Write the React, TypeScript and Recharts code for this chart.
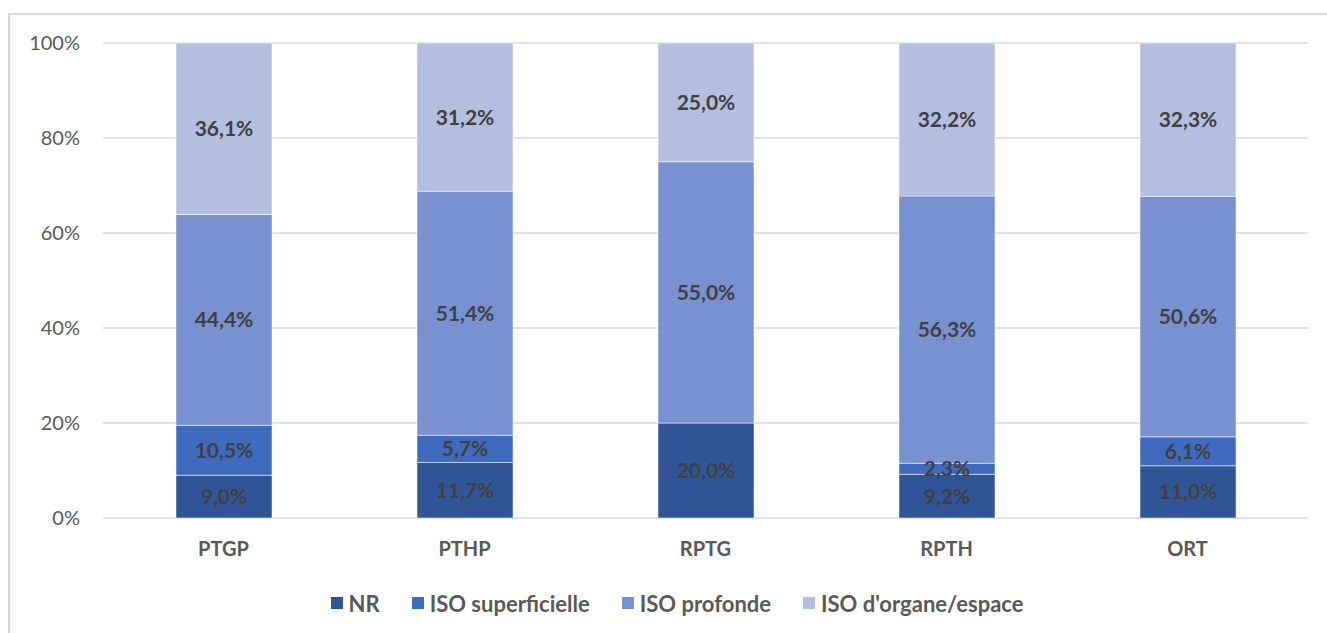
import React from 'react';
import { BarChart, Bar, XAxis, YAxis, CartesianGrid, Legend, LabelList } from 'recharts';

const categories = ['PTGP', 'PTHP', 'RPTG', 'RPTH', 'ORT'];
const nr = [9.0, 11.7, 20.0, 9.2, 11.0];
const isoSup = [10.5, 5.7, 0, 2.3, 6.1];
const isoProf = [44.4, 51.4, 55.0, 56.3, 50.6];
const isoOrg = [36.1, 31.2, 25.0, 32.2, 32.3];
const yTicks = [0, 20, 40, 60, 80, 100];

const series = [
  { key: 'nr', name: 'NR', color: '#2F5597' },
  { key: 'sup', name: 'ISO superficielle', color: '#3F6BBF' },
  { key: 'prof', name: 'ISO profonde', color: '#7891D0' },
  { key: 'org', name: "ISO d'organe/espace", color: '#B4BEDF' },
];

const data = categories.map((c, i) => ({
  name: c,
  nr: nr[i],
  sup: isoSup[i],
  prof: isoProf[i],
  org: isoOrg[i],
}));

const fmt = (v: any) => (v ? Number(v).toFixed(1).replace('.', ',') + '%' : '');

function LegendBox() {
  return (
    <div
      style={{
        height: 40,
        display: 'flex',
        alignItems: 'center',
        justifyContent: 'center',
        paddingLeft: 27,
        boxSizing: 'border-box',
      }}
    >
      {series.map((s) => (
        <div key={s.key} style={{ display: 'flex', alignItems: 'center', margin: '0 16px' }}>
          <span style={{ width: 12, height: 12, background: s.color, display: 'inline-block', marginRight: 6 }} />
          <span style={{ fontWeight: 700, fontSize: 22, color: '#595959' }}>{s.name}</span>
        </div>
      ))}
    </div>
  );
}

export default function App() {
  return (
    <div
      style={{
        position: 'fixed',
        left: 0,
        top: 0,
        width: 1327,
        height: 633,
        overflow: 'hidden',
        background: '#fff',
        fontFamily: 'Lato, sans-serif',
      }}
    >
      <div
        style={{
          position: 'absolute',
          left: 8,
          top: 13,
          width: 1360,
          height: 660,
          border: '2px solid #D9D9D9',
        }}
      />
      <div style={{ position: 'absolute', left: 0, top: 0 }}>
        <BarChart
          width={1327}
          height={633}
          data={data}
          margin={{ top: 43, right: 19, left: 0, bottom: 10 }}
          barSize={96}
        >
          <CartesianGrid vertical={false} stroke="#D9D9D9" strokeWidth={1.5} />
          <XAxis
            dataKey="name"
            axisLine={false}
            tickLine={false}
            tickSize={0}
            tickMargin={24}
            height={65}
            tick={{ fill: '#595959', fontSize: 20, fontWeight: 700 }}
          />
          <YAxis
            domain={[0, 100]}
            ticks={yTicks}
            width={103}
            axisLine={false}
            tickLine={false}
            tickSize={0}
            tickMargin={23}
            tickFormatter={(v) => v + '%'}
            tick={{ fill: '#595959', fontSize: 20 }}
          />
          <Legend
            verticalAlign="bottom"
            content={<LegendBox />}
            wrapperStyle={{ left: 0, width: 1327, bottom: 10, height: 40 }}
          />
          {series.map((s) => (
            <Bar
              key={s.key}
              dataKey={s.key}
              name={s.name}
              stackId="a"
              fill={s.color}
              stroke="#ffffff"
              strokeOpacity={0.5}
              strokeWidth={1}
              isAnimationActive={false}
            >
              <LabelList
                dataKey={s.key}
                position="center"
                formatter={fmt}
                fill="#404040"
                fontSize={21}
                fontWeight={700}
              />
            </Bar>
          ))}
        </BarChart>
      </div>
    </div>
  );
}
